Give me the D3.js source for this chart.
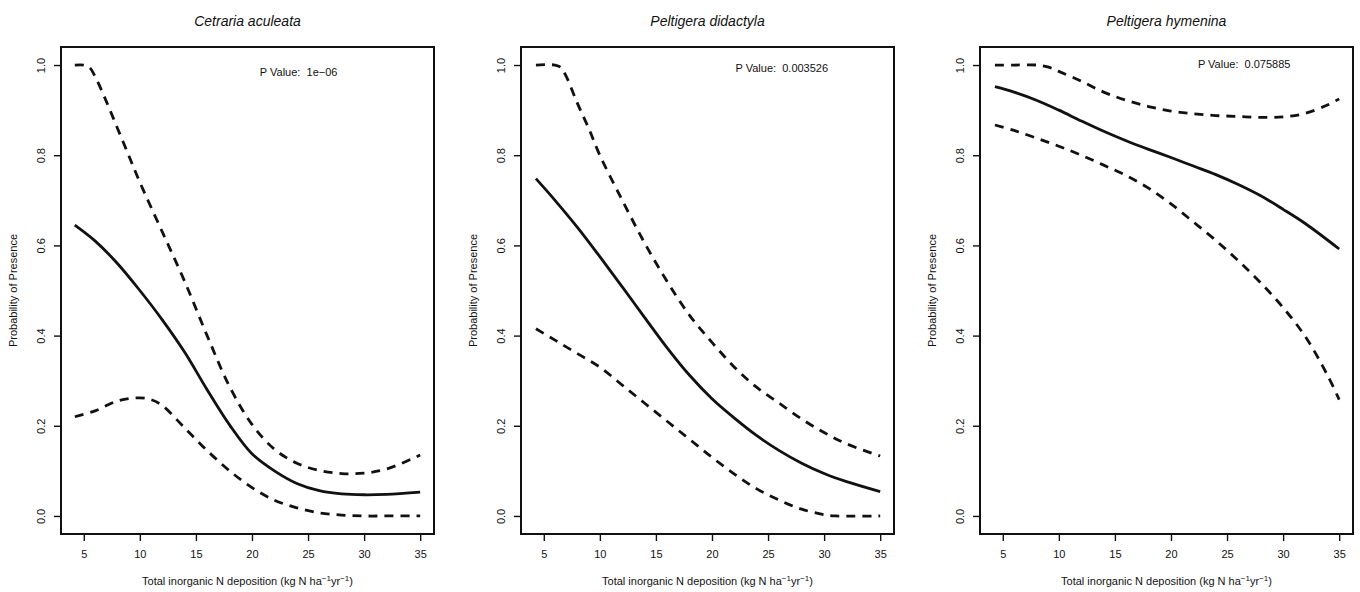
<!DOCTYPE html>
<html>
<head>
<meta charset="utf-8">
<script src="https://cdn.jsdelivr.net/npm/d3@7"></script>
<style>
  body { margin: 0; background: #fff; }
  svg { font-family: "Liberation Sans", Arial, Helvetica, sans-serif; }
</style>
</head>
<body>
<div id="chart"></div>
<script>
// species and p-values
const species = ["Cetraria aculeata", "Peltigera didactyla", "Peltigera hymenina"];
const pValues = ["1e\u221206", "0.003526", "0.075885"];
// where the p-value label sits, in data units (x, y)
const pValueX = [20.7, 22.1, 22.4];
const pValueY = [0.976, 0.984, 0.993];

const xTicks = [5, 10, 15, 20, 25, 30, 35];
const yTicks = [0, 0.2, 0.4, 0.6, 0.8, 1.0];

// Cetraria aculeata
const ca_fitX = [4.2, 6, 8, 10, 12, 14, 16, 18, 20, 22, 24, 26, 28, 30, 32, 35];
const ca_fitY = [0.645, 0.61, 0.56, 0.50, 0.435, 0.363, 0.28, 0.202, 0.138, 0.10, 0.072, 0.056, 0.049, 0.047, 0.048, 0.053];
const ca_upX = [4.2, 5, 5.5, 6, 7, 8, 9, 10, 12, 14, 16, 18, 20, 22, 24, 26, 28, 30, 32, 35];
const ca_upY = [1, 1, 0.995, 0.975, 0.92, 0.86, 0.80, 0.74, 0.63, 0.52, 0.40, 0.287, 0.203, 0.148, 0.117, 0.101, 0.094, 0.095, 0.104, 0.135];
const ca_loX = [4.2, 6, 8, 10, 11, 12, 14, 16, 18, 20, 22, 24, 26, 28, 30, 32, 35];
const ca_loY = [0.22, 0.233, 0.255, 0.262, 0.258, 0.245, 0.195, 0.145, 0.10, 0.063, 0.035, 0.018, 0.007, 0.002, 0, 0, 0];

// Peltigera didactyla
const pd_fitX = [4.3, 6, 8, 10, 12, 14, 16, 18, 20, 22, 24, 26, 28, 30, 32, 35];
const pd_fitY = [0.748, 0.70, 0.64, 0.575, 0.508, 0.44, 0.373, 0.312, 0.26, 0.217, 0.178, 0.145, 0.117, 0.094, 0.076, 0.054];
const pd_upX = [4.3, 6, 6.5, 7, 8, 9, 10, 12, 14, 16, 18, 20, 22, 24, 26, 28, 30, 32, 35];
const pd_upY = [1, 1, 0.995, 0.975, 0.915, 0.86, 0.80, 0.70, 0.605, 0.52, 0.445, 0.385, 0.33, 0.285, 0.25, 0.215, 0.185, 0.16, 0.133];
const pd_loX = [4.3, 6, 8, 10, 12, 14, 16, 18, 20, 22, 24, 26, 28, 30, 31, 35];
const pd_loY = [0.415, 0.39, 0.36, 0.33, 0.29, 0.25, 0.21, 0.17, 0.13, 0.093, 0.06, 0.035, 0.015, 0.003, 0, 0];

// Peltigera hymenina
const ph_fitX = [4.3, 6, 8, 10, 12, 14, 16, 18, 20, 22, 24, 26, 28, 30, 32, 35];
const ph_fitY = [0.952, 0.94, 0.922, 0.90, 0.876, 0.853, 0.832, 0.813, 0.795, 0.776, 0.757, 0.735, 0.71, 0.68, 0.648, 0.592];
const ph_upX = [4.3, 6, 8, 9, 10, 12, 14, 16, 18, 20, 22, 24, 26, 28, 30, 32, 34, 35];
const ph_upY = [1, 1, 1, 0.996, 0.986, 0.964, 0.94, 0.922, 0.908, 0.898, 0.892, 0.888, 0.886, 0.884, 0.885, 0.893, 0.912, 0.925];
const ph_loX = [4.3, 6, 8, 10, 12, 14, 16, 18, 20, 22, 24, 26, 28, 30, 32, 34, 35];
const ph_loY = [0.867, 0.855, 0.838, 0.82, 0.80, 0.778, 0.755, 0.727, 0.692, 0.652, 0.611, 0.566, 0.517, 0.462, 0.397, 0.31, 0.258];

const panels = [
  { fit: [ca_fitX, ca_fitY], up: [ca_upX, ca_upY], lo: [ca_loX, ca_loY] },
  { fit: [pd_fitX, pd_fitY], up: [pd_upX, pd_upY], lo: [pd_loX, pd_loY] },
  { fit: [ph_fitX, ph_fitY], up: [ph_upX, ph_upY], lo: [ph_loX, ph_loY] }
];

const width = 1360, height = 592;
const panelLeft = [61, 521, 980];
const boxW = 373, boxTop = 47, boxH = 487;

const svg = d3.select("#chart").append("svg")
  .attr("width", width)
  .attr("height", height);

// R style: 4% padding around the data range
const xMin = 4.2, xMax = 35, xPad = (xMax - xMin) * 0.04;
const x = d3.scaleLinear().domain([xMin - xPad, xMax + xPad]).range([0, boxW]);
const y = d3.scaleLinear().domain([-0.04, 1.04]).range([boxH, 0]);

const line = d3.line()
  .x(d => x(d[0]))
  .y(d => y(d[1]))
  .curve(d3.curveCatmullRom.alpha(0.5));

const zip = (xs, ys) => xs.map((v, i) => [v, ys[i]]);

panels.forEach((p, i) => {
  const g = svg.append("g")
    .attr("transform", `translate(${panelLeft[i]},${boxTop})`);

  // x axis
  const xa = g.append("g")
    .attr("transform", `translate(0,${boxH})`)
    .call(d3.axisBottom(x).tickValues(xTicks).tickSize(7).tickFormat(d3.format("d")));
  xa.select(".domain").remove();
  xa.selectAll("line").attr("stroke", "#111").attr("stroke-width", 1.4);
  xa.selectAll("text")
    .attr("y", 24).attr("dy", 0)
    .attr("fill", "#111")
    .style("font-size", "11px");

  // y axis, labels parallel to the axis
  const ya = g.append("g")
    .call(d3.axisLeft(y).tickValues(yTicks).tickSize(7).tickFormat(d3.format(".1f")));
  ya.select(".domain").remove();
  ya.selectAll("line").attr("stroke", "#111").attr("stroke-width", 1.4);
  ya.selectAll("text")
    .attr("x", 0).attr("y", -16).attr("dy", 0)
    .attr("transform", "rotate(-90)")
    .attr("text-anchor", "middle")
    .attr("fill", "#111")
    .style("font-size", "11px");

  // box
  g.append("rect")
    .attr("width", boxW).attr("height", boxH)
    .attr("fill", "none")
    .attr("stroke", "#111")
    .attr("stroke-width", 2);

  // curves
  g.append("path")
    .attr("d", line(zip(p.up[0], p.up[1])))
    .attr("fill", "none").attr("stroke", "#111")
    .attr("stroke-width", 2.8)
    .attr("stroke-dasharray", "9 7");
  g.append("path")
    .attr("d", line(zip(p.lo[0], p.lo[1])))
    .attr("fill", "none").attr("stroke", "#111")
    .attr("stroke-width", 2.8)
    .attr("stroke-dasharray", "9 7");
  g.append("path")
    .attr("d", line(zip(p.fit[0], p.fit[1])))
    .attr("fill", "none").attr("stroke", "#111")
    .attr("stroke-width", 2.8);

  // title
  g.append("text")
    .attr("x", boxW / 2).attr("y", -21)
    .attr("text-anchor", "middle")
    .style("font-size", "14px")
    .style("font-style", "italic")
    .attr("fill", "#111")
    .text(species[i]);

  // p value
  g.append("text")
    .attr("x", x(pValueX[i])).attr("y", y(pValueY[i]))
    .style("font-size", "11px")
    .attr("fill", "#111")
    .attr("xml:space", "preserve")
    .text("P Value:  " + pValues[i]);

  // x label
  const xl = g.append("text")
    .attr("x", boxW / 2).attr("y", boxH + 51)
    .attr("text-anchor", "middle")
    .style("font-size", "11px")
    .attr("fill", "#111");
  xl.append("tspan").text("Total inorganic N deposition (kg N ha");
  xl.append("tspan").attr("dy", -4).style("font-size", "8px").text("\u22121");
  xl.append("tspan").attr("dy", 4).text("yr");
  xl.append("tspan").attr("dy", -4).style("font-size", "8px").text("\u22121");
  xl.append("tspan").attr("dy", 4).text(")");

  // y label
  g.append("text")
    .attr("transform", `translate(-44,${boxH / 2}) rotate(-90)`)
    .attr("text-anchor", "middle")
    .style("font-size", "11px")
    .attr("fill", "#111")
    .text("Probability of Presence");
});
</script>
</body>
</html>
